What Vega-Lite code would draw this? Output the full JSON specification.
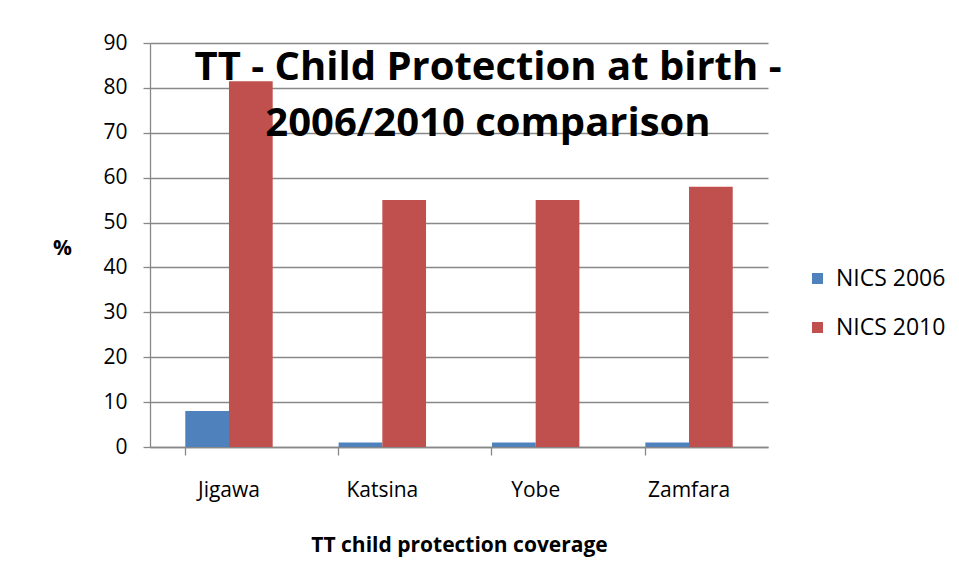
{
  "$schema": "https://vega.github.io/schema/vega-lite/v6.json",
  "autosize": {"type": "none"},
  "width": 618,
  "height": 404,
  "padding": {"left": 150, "top": 43, "right": 191, "bottom": 134},
  "background": "white",
  "title": {
    "text": ["TT - Child Protection at birth -", "2006/2010 comparison"],
    "orient": "top",
    "anchor": "middle",
    "frame": "group",
    "font": "Open Sans",
    "fontSize": 40,
    "fontWeight": "bold",
    "color": "black",
    "lineHeight": 56,
    "baseline": "top",
    "offset": 0,
    "dx": 29,
    "dy": 112
  },
  "data": {
    "values": [
      {"state": "Jigawa", "series": "NICS 2006", "value": 8},
      {"state": "Jigawa", "series": "NICS 2010", "value": 81.5},
      {"state": "Katsina", "series": "NICS 2006", "value": 1},
      {"state": "Katsina", "series": "NICS 2010", "value": 55},
      {"state": "Yobe", "series": "NICS 2006", "value": 1},
      {"state": "Yobe", "series": "NICS 2010", "value": 55},
      {"state": "Zamfara", "series": "NICS 2006", "value": 1},
      {"state": "Zamfara", "series": "NICS 2010", "value": 58}
    ]
  },
  "mark": {"type": "bar"},
  "encoding": {
    "x": {
      "field": "state",
      "type": "nominal",
      "sort": null,
      "scale": {"paddingInner": 0.43, "paddingOuter": 0.23},
      "axis": {
        "title": "TT child protection coverage",
        "labelAngle": 0,
        "bandPosition": 0,
        "tickSize": 8,
        "labelPadding": 24,
        "titlePadding": 34,
        "labelOffset": 0
      }
    },
    "xOffset": {"field": "series", "type": "nominal", "scale": {"paddingInner": 0, "paddingOuter": 0}},
    "y": {
      "field": "value",
      "type": "quantitative",
      "scale": {"domain": [0, 90]},
      "axis": {
        "title": "%",
        "titleAngle": 0,
        "titleAlign": "center",
        "titleBaseline": "middle",
        "titleX": -88,
        "titleY": 205,
        "values": [0, 10, 20, 30, 40, 50, 60, 70, 80, 90],
        "tickSize": 7,
        "labelPadding": 16,
        "grid": true
      }
    },
    "color": {
      "field": "series",
      "type": "nominal",
      "scale": {"range": ["#4F81BD", "#C0504D"]},
      "legend": {
        "title": null,
        "orient": "none",
        "legendX": 656,
        "legendY": 224,
        "symbolType": "square",
        "symbolSize": 121,
        "symbolStrokeWidth": 0,
        "labelFontSize": 23,
        "labelFont": "Open Sans",
        "labelColor": "black",
        "rowPadding": 25,
        "labelOffset": 7
      }
    }
  },
  "config": {
    "view": {"stroke": null},
    "axis": {
      "labelFont": "Open Sans",
      "titleFont": "Open Sans",
      "labelFontSize": 21,
      "titleFontSize": 21,
      "labelColor": "black",
      "titleColor": "black",
      "titleFontWeight": "bold",
      "domainColor": "#888888",
      "tickColor": "#888888",
      "gridColor": "#888888",
      "domainWidth": 1.3,
      "tickWidth": 1.3,
      "gridWidth": 1.3
    }
  }
}
